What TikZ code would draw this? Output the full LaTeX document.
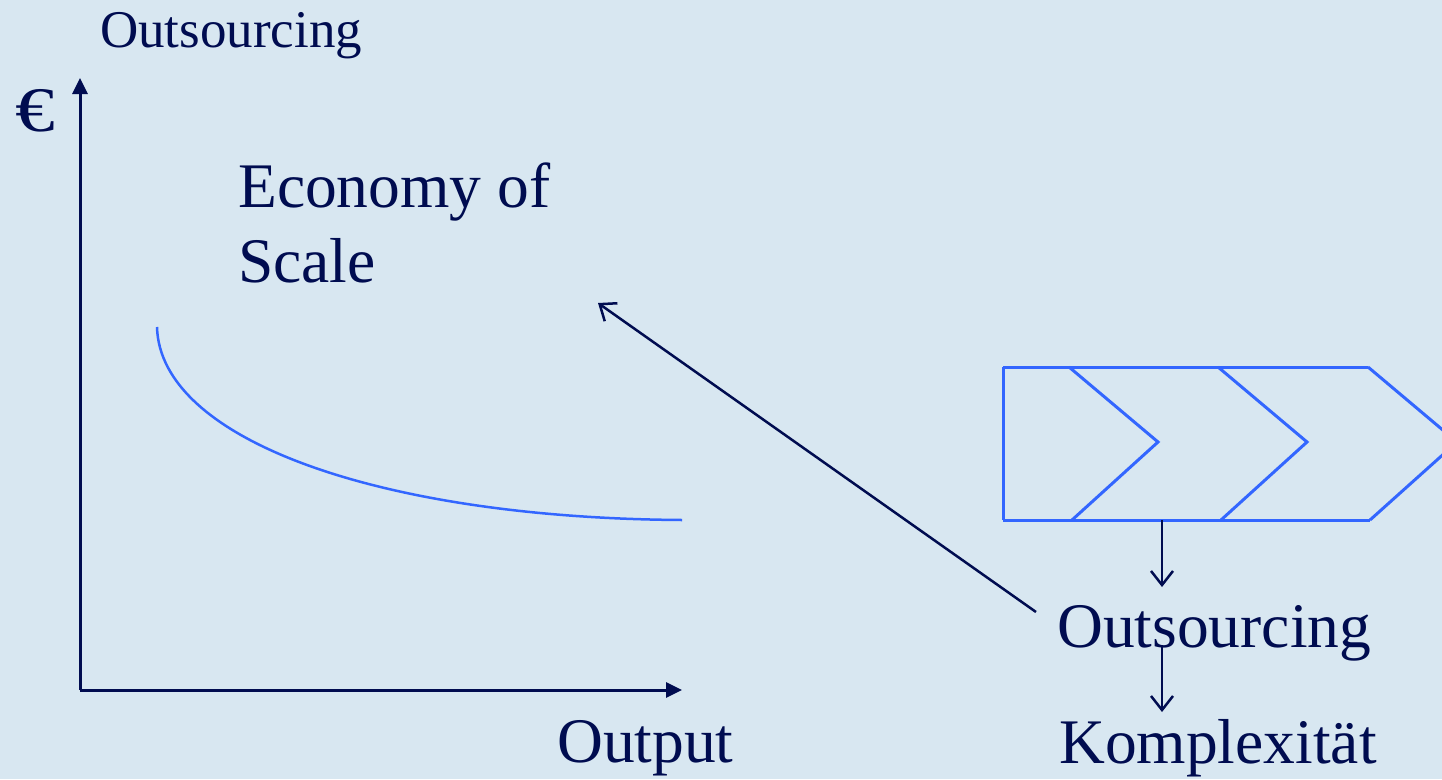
\documentclass[tikz,border=0pt]{standalone}
\usepackage{fontspec}
\setmainfont{Liberation Serif}
\usetikzlibrary{arrows.meta}
\definecolor{bgc}{RGB}{216,231,241}
\definecolor{navy}{RGB}{0,12,80}
\definecolor{lineblue}{RGB}{51,102,255}
\begin{document}
\begin{tikzpicture}[x=1pt,y=-1pt,
  lbl/.style={anchor=base west,inner sep=0pt,text=navy,font=\fontsize{63.5}{70}\selectfont},
  small/.style={anchor=base west,inner sep=0pt,text=navy,font=\fontsize{53}{60}\selectfont},
  axis/.style={navy,line width=3pt,-{Triangle[length=16pt,width=15pt]}},
  thin arrow/.style={navy,line width=2.5pt,-{Straight Barb[length=14pt,width=22pt,line width=2.5pt]}},
  chev/.style={lineblue,line width=3pt}]
\fill[bgc] (0,0) rectangle (1442,779);
\useasboundingbox (0,0) rectangle (1442,779);
% texts
\node[small] (title) at (100,47) {Outsourcing};
\node[lbl,xscale=1.25] (euro) at (15,131) {€};
\node[lbl] (eco1) at (238,207) {Economy of};
\node[lbl] (eco2) at (238,282) {Scale};
\node[lbl] (out) at (557,762) {Output};
\node[lbl] (outs) at (1057,647) {Outsourcing};
\node[lbl] (komp) at (1059,763) {Komplexität};
% axes
\coordinate (origin) at (80,690);
\coordinate (ytip) at (80,78);
\coordinate (xtip) at (682,690);
\draw[axis] (origin) -- (ytip);
\draw[axis] (origin) -- (xtip);
% cost curve
\draw[lineblue,line width=2.5pt] (157,327) .. controls (160,440) and (380,518) .. (682,520);
% chevron process
\begin{scope}
\clip (0,0) rectangle (1442,779);
\draw[chev] (1003,367) -- (1003,520);
\draw[chev] (1003,367) -- (1368,367);
\draw[chev] (1003,520) -- (1370,520);
\draw[chev] (1069,367) -- (1158,442) -- (1072,520);
\draw[chev] (1218,367) -- (1307,442) -- (1221,520);
\draw[chev] (1368,367) -- (1457,442) -- (1370,520);
\end{scope}
% arrows
\coordinate (chevbot) at (1162,520);
\coordinate (a1end) at (1162,587);
\coordinate (a2start) at (1162,645);
\coordinate (a2end) at (1162,712);
\coordinate (diagstart) at (1036,612);
\coordinate (diagend) at (598,303);
\draw[thin arrow] (chevbot) -- (a1end);
\draw[thin arrow] (a2start) -- (a2end);
\draw[thin arrow] (diagstart) -- (diagend);
\end{tikzpicture}
\end{document}
